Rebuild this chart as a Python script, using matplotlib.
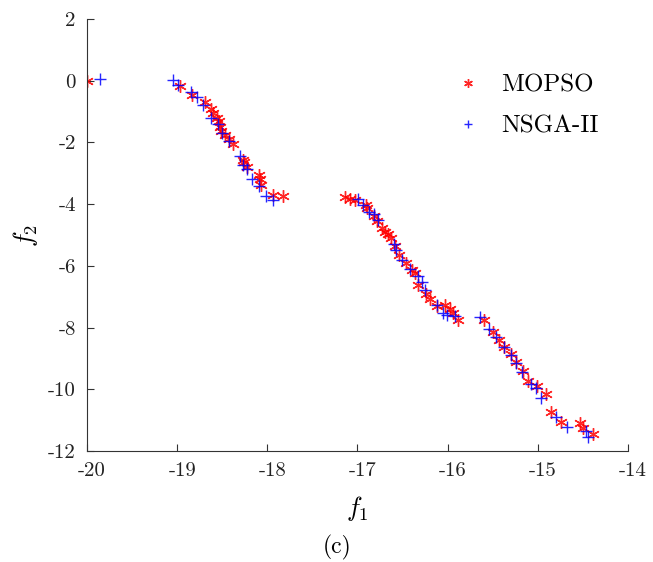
import matplotlib
matplotlib.use("Agg")
import matplotlib.pyplot as plt
import matplotlib.transforms as mtransforms

plt.rcParams['font.family'] = 'cmr10'
plt.rcParams['mathtext.fontset'] = 'cm'
plt.rcParams['axes.unicode_minus'] = False
plt.rcParams['axes.formatter.use_mathtext'] = True

# MOPSO front
mopso_f1 = [-20.0, -18.97, -18.83, -18.69, -18.62, -18.60, -18.56, -18.54, -18.52, -18.51,
            -18.47, -18.43, -18.38, -18.27, -18.26, -18.23, -18.09, -18.08, -18.07, -17.94,
            -17.83,
            -17.14, -17.08, -17.03, -16.91, -16.89, -16.82, -16.78, -16.73, -16.70, -16.66,
            -16.63, -16.58, -16.54, -16.46, -16.40, -16.36, -16.33, -16.24, -16.20, -16.12,
            -16.03, -15.97, -15.94, -15.89,
            -15.60, -15.50, -15.43, -15.38, -15.30, -15.24, -15.16, -15.11, -15.01, -14.91,
            -14.85, -14.74, -14.53, -14.50, -14.39]
mopso_f2 = [0.0, -0.18, -0.45, -0.69, -0.92, -1.05, -1.21, -1.32, -1.50, -1.64,
            -1.75, -1.89, -2.05, -2.56, -2.65, -2.80, -3.05, -3.19, -3.37, -3.70,
            -3.75,
            -3.77, -3.84, -3.88, -4.02, -4.13, -4.40, -4.56, -4.78, -4.89, -4.96,
            -5.10, -5.37, -5.64, -5.91, -6.13, -6.22, -6.62, -6.91, -7.07, -7.30,
            -7.27, -7.41, -7.54, -7.75,
            -7.77, -8.15, -8.40, -8.62, -8.86, -9.10, -9.40, -9.72, -9.88, -10.16,
            -10.73, -11.05, -11.10, -11.27, -11.46]

# NSGA-II front
nsga_f1 = [-19.86, -19.05, -18.99, -18.85, -18.78, -18.71, -18.63, -18.55, -18.50, -18.42,
           -18.30, -18.27, -18.22, -18.17, -18.09, -18.01, -17.94,
           -16.99, -16.94, -16.87, -16.82, -16.77, -16.60, -16.57, -16.51, -16.42, -16.33,
           -16.29, -16.25, -16.12, -16.05, -16.01, -15.92,
           -15.64, -15.54, -15.46, -15.38, -15.30, -15.24, -15.17, -15.08, -15.02, -14.97,
           -14.80, -14.68, -14.47, -14.44]
nsga_f2 = [0.05, 0.01, -0.13, -0.35, -0.53, -0.78, -1.21, -1.40, -1.70, -1.94,
           -2.43, -2.72, -2.86, -3.19, -3.41, -3.72, -3.86,
           -3.84, -4.02, -4.24, -4.31, -4.51, -5.29, -5.48, -5.81, -6.11, -6.33,
           -6.51, -6.78, -7.27, -7.52, -7.59, -7.64,
           -7.67, -8.05, -8.29, -8.64, -8.89, -9.16, -9.43, -9.83, -9.97, -10.29,
           -10.91, -11.23, -11.34, -11.56]

xticks = [-20, -19, -18, -17, -16, -15, -14]
yticks = [2, 0, -2, -4, -6, -8, -10, -12]

fig = plt.figure(figsize=(6.53, 5.62), dpi=100)
ax = fig.add_axes([0.1332, 0.1975, 0.8285, 0.7687])

ax.plot(mopso_f1, mopso_f2, linestyle='none', marker=(6, 2, 0), markersize=9,
        markeredgewidth=1.0, color='red', alpha=0.85, label='MOPSO')
ax.plot(nsga_f1, nsga_f2, linestyle='none', marker='+', markersize=9,
        markeredgewidth=1.0, color='blue', alpha=0.85, label='NSGA-II')

ax.set_xlim(-20, -14)
ax.set_ylim(-12, 2)
ax.set_xticks(xticks)
ax.set_yticks(yticks)
ax.set_xticklabels([str(v) for v in xticks])
ax.set_yticklabels([str(v) for v in yticks])

for s in ['top', 'right']:
    ax.spines[s].set_visible(False)
for s in ['left', 'bottom']:
    ax.spines[s].set_color('#333333')
ax.tick_params(direction='in', length=5, colors='#333333', labelsize=15, pad=8)
shift = mtransforms.ScaledTranslation(5 / 100, 0, fig.dpi_scale_trans)
for lab in ax.get_xticklabels():
    lab.set_transform(lab.get_transform() + shift)
for lab in ax.get_xticklabels() + ax.get_yticklabels():
    lab.set_color('#222222')

ax.set_xlabel('$f_1$', fontsize=19, labelpad=10)
ax.set_ylabel('$f_2$', fontsize=19, labelpad=6)
fig.text(0.516, 0.004, '(c)', fontsize=17, ha='center', va='bottom')

leg = ax.legend(loc='upper right', bbox_to_anchor=(0.988, 0.925), frameon=False, fontsize=18,
                handletextpad=0.6, labelspacing=0.75, markerscale=0.7, handlelength=1.5)

plt.savefig('out.png', dpi=100)
plt.close()
